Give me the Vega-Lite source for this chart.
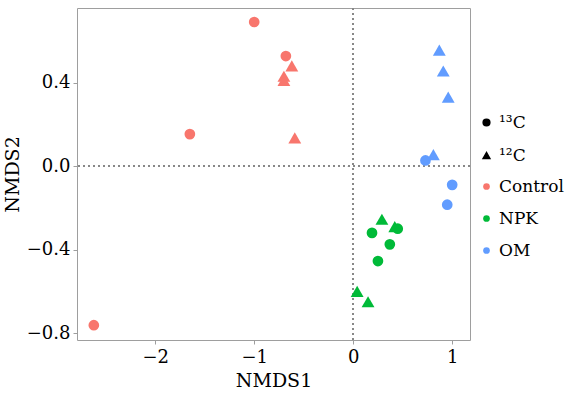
{
  "$schema": "https://vega.github.io/schema/vega-lite/v6.json",
  "width": 393,
  "height": 332,
  "autosize": {"type": "none"},
  "padding": {"left": 77, "top": 8, "right": 99, "bottom": 59},
  "background": "white",
  "config": {
    "font": "DejaVu Serif",
    "view": {"stroke": "#9e9e9e", "strokeWidth": 1},
    "axis": {"grid": false, "domain": false, "tickColor": "#9e9e9e", "tickSize": 4, "labelFontSize": 18, "labelColor": "#000", "titleFontSize": 19, "titleFontWeight": "normal", "titleColor": "#000", "labelFont": "DejaVu Serif", "titleFont": "DejaVu Serif"},
    "legend": {"labelFont": "DejaVu Serif", "labelFontSize": 17, "labelColor": "#000"}
  },
  "datasets": {"pts": [
    {"NMDS1": -1.0, "NMDS2": 0.69, "Treatment": "Control", "Isotope": "¹³C"},
    {"NMDS1": -0.68, "NMDS2": 0.527, "Treatment": "Control", "Isotope": "¹³C"},
    {"NMDS1": -1.65, "NMDS2": 0.153, "Treatment": "Control", "Isotope": "¹³C"},
    {"NMDS1": -2.62, "NMDS2": -0.762, "Treatment": "Control", "Isotope": "¹³C"},
    {"NMDS1": -0.62, "NMDS2": 0.48, "Treatment": "Control", "Isotope": "¹²C"},
    {"NMDS1": -0.70, "NMDS2": 0.43, "Treatment": "Control", "Isotope": "¹²C"},
    {"NMDS1": -0.70, "NMDS2": 0.41, "Treatment": "Control", "Isotope": "¹²C"},
    {"NMDS1": -0.59, "NMDS2": 0.135, "Treatment": "Control", "Isotope": "¹²C"},
    {"NMDS1": 0.87, "NMDS2": 0.555, "Treatment": "OM", "Isotope": "¹²C"},
    {"NMDS1": 0.91, "NMDS2": 0.455, "Treatment": "OM", "Isotope": "¹²C"},
    {"NMDS1": 0.96, "NMDS2": 0.33, "Treatment": "OM", "Isotope": "¹²C"},
    {"NMDS1": 0.81, "NMDS2": 0.055, "Treatment": "OM", "Isotope": "¹²C"},
    {"NMDS1": 0.73, "NMDS2": 0.027, "Treatment": "OM", "Isotope": "¹³C"},
    {"NMDS1": 1.0, "NMDS2": -0.09, "Treatment": "OM", "Isotope": "¹³C"},
    {"NMDS1": 0.95, "NMDS2": -0.185, "Treatment": "OM", "Isotope": "¹³C"},
    {"NMDS1": 0.29, "NMDS2": -0.255, "Treatment": "NPK", "Isotope": "¹²C"},
    {"NMDS1": 0.42, "NMDS2": -0.29, "Treatment": "NPK", "Isotope": "¹²C"},
    {"NMDS1": 0.04, "NMDS2": -0.60, "Treatment": "NPK", "Isotope": "¹²C"},
    {"NMDS1": 0.15, "NMDS2": -0.65, "Treatment": "NPK", "Isotope": "¹²C"},
    {"NMDS1": 0.19, "NMDS2": -0.32, "Treatment": "NPK", "Isotope": "¹³C"},
    {"NMDS1": 0.45, "NMDS2": -0.30, "Treatment": "NPK", "Isotope": "¹³C"},
    {"NMDS1": 0.37, "NMDS2": -0.375, "Treatment": "NPK", "Isotope": "¹³C"},
    {"NMDS1": 0.25, "NMDS2": -0.455, "Treatment": "NPK", "Isotope": "¹³C"}
  ]},
  "data": {"name": "pts"},
  "encoding": {
    "x": {"field": "NMDS1", "type": "quantitative", "scale": {"domain": [-2.79, 1.18], "nice": false, "zero": false},
          "axis": {"values": [-2, -1, 0, 1], "format": "d", "title": "NMDS1", "titlePadding": 5, "labelPadding": 4}},
    "y": {"field": "NMDS2", "type": "quantitative", "scale": {"domain": [-0.833, 0.757], "nice": false, "zero": false},
          "axis": {"values": [-0.8, -0.4, 0, 0.4], "format": ".1f", "title": "NMDS2", "titlePadding": 4, "labelPadding": 3}},
    "shape": {"field": "Isotope", "type": "nominal",
              "scale": {"domain": ["¹³C", "¹²C"], "range": ["circle", "triangle-up"]},
              "legend": {"title": null, "orient": "none", "legendX": 401, "legendY": 106, "symbolSize": 45, "symbolFillColor": "#000", "symbolStrokeColor": "#000", "rowPadding": 15, "labelOffset": 4}},
    "color": {"field": "Treatment", "type": "nominal",
              "scale": {"domain": ["Control", "NPK", "OM"], "range": ["#F8766D", "#00BA38", "#619CFF"]},
              "legend": {"title": null, "orient": "none", "legendX": 401, "legendY": 170, "symbolType": "circle", "symbolSize": 45, "rowPadding": 14, "labelOffset": 4}}
  },
  "layer": [
    {
      "mark": {"type": "rule", "color": "#888", "strokeDash": [2, 3], "strokeWidth": 1},
      "encoding": {"x": {"datum": 0, "type": "quantitative"}, "y": null, "shape": null, "color": null}
    },
    {
      "mark": {"type": "rule", "color": "#888", "strokeDash": [2, 3], "strokeWidth": 1},
      "encoding": {"y": {"datum": 0, "type": "quantitative"}, "x": null, "shape": null, "color": null}
    },
    {
      "transform": [{"filter": "datum.Isotope == '¹³C'"}],
      "mark": {"type": "point", "filled": true, "opacity": 1, "size": 115}
    },
    {
      "transform": [{"filter": "datum.Isotope == '¹²C'"}],
      "mark": {"type": "point", "filled": true, "opacity": 1, "size": 165}
    }
  ]
}
